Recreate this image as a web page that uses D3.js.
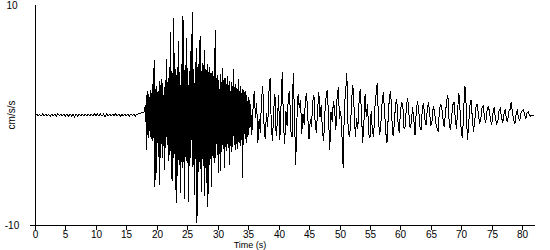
<!DOCTYPE html>
<html>
<head>
<meta charset="utf-8">
<script src="https://cdn.jsdelivr.net/npm/d3@7"></script>
<style>
  body { margin: 0; background: #fff; }
  svg { display: block; }
  text { font-family: "Liberation Sans", Arial, sans-serif; font-size: 10px; fill: #000; }
</style>
</head>
<body>
<div id="chart_location"></div>
<script>
// acceleration (cm/s/s), sample by sample
var preEvent = [0, 0.08, -0.08, 0.07, -0.08, 0.08, -0.07, 0.08, -0.08, 0.08,
    -0.15, 0.08, -0.08, 0.07, -0.08, 0.15, -0.08, 0.08, -0.07, 0.08,
    -0.08, 0.08, -0.08, 0.07, -0.08, 0.08, -0.15, 0.08, -0.08, 0.08,
    -0.07, 0.08, -0.08, 0.08, -0.08, 0.07, -0.08, 0.08, -0.08, 0.15,
    -0.08, 0.08, -0.07, 0.08, -0.08, 0.08, -0.15, 0.08, -0.08, 0.07,
    -0.08, 0.08, -0.08, 0.15, -0.08, 0.08, -0.15, 0.08, -0.08, 0.07,
    -0.08, 0.08, -0.08, 0.08, -0.07, 0.08, -0.08, 0.08, 0.1, 0.15,
    0.2, 0.25];
var preEventStart = 0, preEventStep = 0.25;

var strongMotion = [0.3, 0.9, 0.5, -3.2, 2.2, -1.8, 1.9, -2.1, 1.6, -2.0,
    2.3, -2.2, 2.0, -2.4, 4.3, -2.1, 5.0, -6.5, 2.4, -5.3,
    2.6, -2.5, 2.2, -3.8, 3.1, -6.4, 2.7, -2.6, 3.3, -3.9,
    2.9, -2.8, 2.5, -5.0, 3.2, -3.0, 5.1, -2.7, 3.0, -4.2,
    3.4, -3.6, 7.5, -3.3, 4.0, -6.0, 3.8, -3.9, 8.8, -3.5,
    4.2, -6.8, 3.6, -8.0, 4.4, -4.1, 6.7, -4.5, 3.9, -7.1,
    4.6, -4.0, -4.8, 9.0, -4.3, 4.1, -7.6, 4.5, -4.2, 7.0,
    -4.4, 4.3, -7.9, 4.0, -4.6, 5.8, -3.9, 7.4, -4.7, 9.4,
    -4.5, 4.2, -7.3, 4.8, -4.0, 6.1, -9.8, 4.4, -5.2, 4.6,
    -4.3, 7.2, -4.9, 4.0, -7.0, 4.7, -4.6, 4.5, -7.4, 5.9,
    -4.8, 4.1, -6.2, 4.6, -8.4, 3.9, -4.5, 4.4, -4.0, 3.8,
    -6.5, 4.0, -3.7, 3.5, -4.4, 3.8, 7.7, -3.9, 3.4, -3.6,
    3.6, -5.3, 3.2, -3.5, 3.7, -5.1, 3.0, -3.4, 4.3, -3.1,
    3.2, -4.8, 3.4, -2.9, 2.8, -3.3, 3.5, -3.0, 2.7, -4.5,
    3.1, -2.8, 3.0, -3.4, 2.6, -2.9, 4.2, -2.7, 2.5, -3.2,
    2.8, -2.6, 2.4, -3.1, 3.3, -2.5, 2.2, -2.8, 2.6, -2.3,
    2.4, -5.7, 2.3, -2.7, 2.1, -2.2, 2.2, -2.5, 1.8, -2.0,
    1.6, -1.8, 1.4, -1.2, 1.0];
var strongMotionStart = 18, strongMotionStep = 0.1;

var codaEarly = [-1.8, 0.6, 2.2, -0.3, 1.1, -2.5, -0.4, -1.6, 1.5, 2.6,
    -0.8, -2.2, 0.2, -1.1, 2.0, 3.4, -1.0, -2.4, 0.5, 1.9,
    -1.9, -0.6, 1.8, -2.3, 0.9, 3.9, -0.8, -2.6, 0.4, -1.0,
    1.8, 2.2, -1.4, -2.0, 3.8, 0.2, -4.5, -0.5, 1.9, 0.6,
    1.4, -1.7, 0.1, -0.9, 1.4, 2.0, -0.3, -2.2, -0.4, -1.1,
    1.2, 1.8, -0.7, -1.6, 0.4, 2.1, -0.2, 0.9, -1.5, -2.4,
    0.2, 1.7, 2.3, -0.2, -3.2, 0.3, -0.6, 1.3, 0.5, -1.4,
    1.6, 2.5, -0.4, 0.4, -1.8, -4.8, 0.8, 2.0, 3.8, -0.9,
    -2.0, -1.2, 1.5, 2.7, 0.6, -2.0, -0.3, -1.3, 1.1, 2.4,
    0.3, -2.5, -0.8, 1.9, -0.2, 1.0, -1.7, -2.1];
var codaEarlyStart = 35.6, codaEarlyStep = 0.2;

var codaLate = [0.4, -1.5, -2.0, 0.6, 1.9, 2.9, -0.5, -1.8, -0.7, 1.2,
    2.1, 0.3, -1.6, -2.5, -0.2, 1.7, 2.2, -0.4, -1.9, -0.8,
    1.0, 1.4, -0.6, -1.6, 0.2, 1.2, 0.8, -1.3, -1.0, 0.9,
    1.5, 0.1, -1.2, -0.6, 0.7, -0.4, -1.8, 0.3, 1.3, 0.5,
    -1.1, -1.4, 0.6, 1.1, -0.3, -0.9, 0.4, 1.2, 0.2, -1.0,
    -0.5, 0.8, 0.3, -0.7, -1.2, -1.5, 0.4, 1.0, 0.6, -0.4,
    -1.1, 0.2, 1.3, 1.8, -0.6, -1.4, -0.3, 0.9, 1.2, -0.2,
    -1.3, 0.5, 2.0, 0.4, -1.6, -2.1, 0.6, 2.6, 0.9, -2.3,
    -1.0, 0.8, 1.4, -0.2, -1.5, -0.6, 0.7, 1.0, 0.1, -0.8,
    -0.3, 0.6, 0.9, -0.2, -0.7, 0.3, 0.8, 0.4, -0.5, -0.9,
    0.2, 0.7, -0.3, -0.8, -0.6, 0.4, 0.6, -0.2, -0.7, 0.1,
    0.5, -0.4, -0.6, 0.3, 0.5, 1.2, 0.2, -0.5, -0.8, 0.1,
    0.4, -0.3, -0.5, 0.2, 0.4, 0.5, 0.0, -0.3, 0.2, 0.3,
    0.0, -0.1, 0.0, 0.0, 0.0];
var codaLateStart = 55.2, codaLateStep = 0.2;

var xTicks = [0, 5, 10, 15, 20, 25, 30, 35, 40, 45, 50, 55, 60, 65, 70, 75, 80];
var yTicks = [-10, 10];
var xLabel = "Time (s)";
var yLabel = "cm/s/s";

function toPoints(values, start, step) {
    return values.map(function(v, i) { return {t: start + i * step, v: v}; });
}

var data = []
    .concat(toPoints(preEvent, preEventStart, preEventStep))
    .concat(toPoints(strongMotion, strongMotionStart, strongMotionStep))
    .concat(toPoints(codaEarly, codaEarlyStart, codaEarlyStep))
    .concat(toPoints(codaLate, codaLateStart, codaLateStep));

var svg = d3.select("#chart_location").append("svg")
    .attr("width", 550)
    .attr("height", 250);

var x = d3.scaleLinear().domain([0, 82.1]).range([35, 535]);
var y = d3.scaleLinear().domain([-10, 10]).range([225, 5]);

var line = d3.line()
    .x(function(d) { return x(d.t); })
    .y(function(d) { return y(d.v); });

svg.append("path")
    .datum(data)
    .attr("fill", "none")
    .attr("stroke", "#000")
    .attr("stroke-width", 1)
    .attr("shape-rendering", "crispEdges")
    .attr("d", line);

// x axis
var xAxis = svg.append("g").attr("transform", "translate(0,225)");
xAxis.append("line")
    .attr("x1", 30).attr("x2", 535)
    .attr("y1", 0.5).attr("y2", 0.5)
    .attr("stroke", "#000");
var xt = xAxis.selectAll("g.tick")
    .data(xTicks)
    .enter().append("g")
    .attr("class", "tick")
    .attr("transform", function(d) { return "translate(" + (Math.round(x(d)) + 0.5) + ",0)"; });
xt.append("line").attr("y1", 0).attr("y2", 5).attr("stroke", "#000");
xt.append("text")
    .attr("y", 12.8)
    .attr("text-anchor", "middle")
    .text(function(d) { return d; });

// y axis
svg.append("line")
    .attr("x1", 35.5).attr("x2", 35.5)
    .attr("y1", 5).attr("y2", 225)
    .attr("stroke", "#000");
svg.selectAll("text.ylab")
    .data(yTicks)
    .enter().append("text")
    .attr("class", "ylab")
    .attr("x", 12)
    .attr("y", function(d) { return y(d) + 4; })
    .attr("text-anchor", "middle")
    .text(function(d) { return d; });

svg.append("text")
    .attr("x", 250)
    .attr("y", 248)
    .attr("text-anchor", "middle")
    .style("font-size", "9px")
    .text(xLabel);

svg.append("text")
    .attr("transform", "translate(15,115) rotate(-90)")
    .attr("text-anchor", "middle")
    .text(yLabel);
</script>
</body>
</html>
